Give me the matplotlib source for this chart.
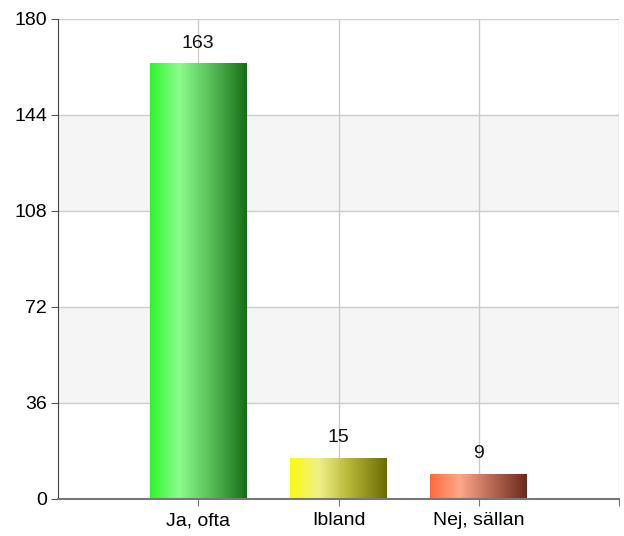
import matplotlib
matplotlib.use("Agg")
import matplotlib.pyplot as plt
import numpy as np
from matplotlib.colors import LinearSegmentedColormap

categories = ["Ja, ofta", "Ibland", "Nej, sällan"]
values = [163, 15, 9]
yticks = [0, 36, 72, 108, 144, 180]

grad_colors = [
    ["#2ef52e", "#8cfc8c", "#5cc45c", "#176e17"],
    ["#fafa10", "#f0f08a", "#b8b83a", "#6b6b05"],
    ["#ff6a3c", "#ffa88a", "#c0705a", "#6a2a1a"],
]

plt.rcParams['font.family'] = ['Liberation Sans', 'DejaVu Sans']
fig = plt.figure(figsize=(6.24, 5.36), dpi=100)
ax = fig.add_axes([58/624, 1 - 498.5/536, (619-58)/624, (498.5-19)/536])

x = np.arange(len(categories))
ax.set_xlim(-1, len(categories))
ax.set_ylim(0, 180)

# alternating bands
for i in range(len(yticks) - 1):
    if i % 2 == 1:
        ax.axhspan(yticks[i], yticks[i+1], color="#f5f5f5", zorder=0, lw=0)

for yv in yticks[1:]:
    ax.axhline(yv, color="#cccccc", lw=1, zorder=1)
for xv in list(x) + [len(categories)]:
    ax.axvline(xv, color="#cccccc", lw=1, zorder=1)

bars = ax.bar(x, values, width=0.69, color="none", zorder=2)
grad = np.linspace(0, 1, 256).reshape(1, -1)
for b, cols, v in zip(bars, grad_colors, values):
    cmap = LinearSegmentedColormap.from_list("g", list(zip([0, 0.3, 0.6, 1.0], cols)))
    x0, w, h = b.get_x(), b.get_width(), b.get_height()
    ax.imshow(grad, cmap=cmap, extent=[x0, x0 + w, 0, h], aspect="auto", zorder=3)
    ax.annotate(str(v), (x0 + w/2, h), xytext=(0, 9), textcoords="offset points",
                ha="center", va="bottom", fontsize=14, color="#111111", zorder=4)
ax.set_xlim(-1, len(categories))
ax.set_ylim(0, 180)

ax.set_yticks(yticks)
ax.set_yticklabels([str(t) for t in yticks], fontsize=14)
ax.set_xticks(list(x) + [len(categories)])
ax.set_xticklabels(categories + [""], fontsize=14)
ax.tick_params(axis="y", length=5, color="#555555", pad=3)
ax.tick_params(axis="x", length=5, color="#777777", pad=5)

for s in ["top", "right"]:
    ax.spines[s].set_visible(False)
ax.spines["left"].set_color("#444444")
ax.spines["bottom"].set_color("#777777")
ax.spines["bottom"].set_linewidth(1.5)
ax.spines["left"].set_zorder(5)
ax.spines["bottom"].set_zorder(5)

fig.savefig("out.png", dpi=100)
